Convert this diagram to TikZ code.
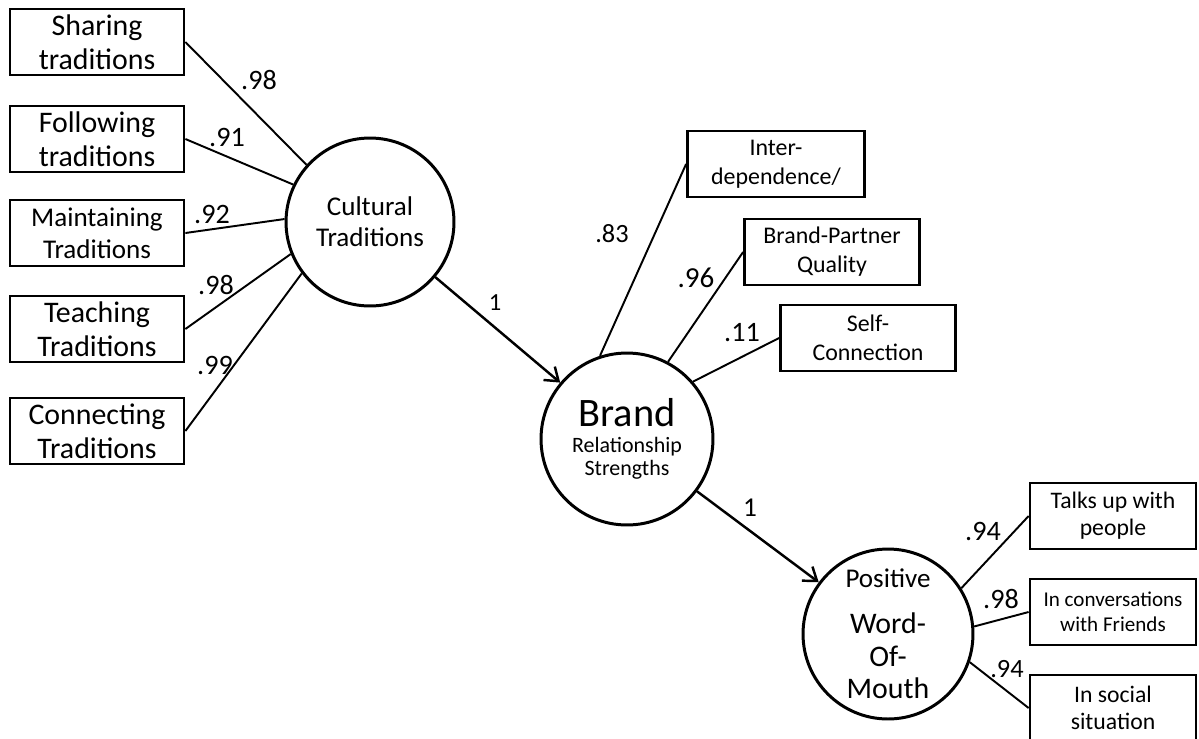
\documentclass[tikz,border=0pt]{standalone}
\usepackage{fontspec}
\setmainfont[Numbers=Lining]{Carlito}
\usetikzlibrary{arrows.meta}

\begin{document}
\begin{tikzpicture}[x=0.02cm, y=-0.02cm]
    % Define styles for different elements
    \tikzstyle{indicator} = [rectangle, draw, line width=1.6pt, minimum width=3.48cm, minimum height=1.32cm, inner sep=1pt, align=center, font=\fontsize{17}{19.5}\selectfont]
    \tikzstyle{facet} = [indicator, minimum width=3.5cm, font=\fontsize{13.6}{16.5}\selectfont]
    \tikzstyle{outcome} = [indicator, minimum width=3.32cm, font=\fontsize{13.5}{15.5}\selectfont]
    \tikzstyle{construct} = [circle, draw, line width=1.7pt, minimum size=3.4cm, inner sep=0pt, align=center]
    \tikzstyle{loading} = [draw, line width=1.1pt, -]
    \tikzstyle{effect} = [draw, line width=1.4pt, -{Straight Barb[length=7pt, width=10pt, line width=1.4pt]}]
    \tikzstyle{weight} = [inner sep=0pt, font=\fontsize{16}{18}\selectfont]

    \useasboundingbox (0,0) rectangle (1199,738);

    % Cultural traditions indicators
    \node[indicator] (share) at (97,42) {Sharing\\traditions};
    \node[indicator] (follow) at (97,139) {Following\\traditions};
    \node[indicator, font=\fontsize{15.4}{18}\selectfont] (maintain) at (97,233) {Maintaining\\Traditions};
    \node[indicator] (teach) at (97,329) {Teaching\\Traditions};
    \node[indicator] (connect) at (97,431) {Connecting\\Traditions};

    % Latent constructs
    \node[construct, minimum size=3.36cm, font=\fontsize{15.4}{17.6}\selectfont] (cult) at (370,222) {Cultural\\Traditions};
    \node[construct, minimum size=3.44cm, font=\fontsize{12.5}{13}\selectfont] (brand) at (627,439) {{\fontsize{23}{24}\selectfont Brand}\\[2pt]Relationship\\Strengths};
    \node[construct, font=\fontsize{17}{18.5}\selectfont] (wom) at (888,634) {{\fontsize{15.4}{17}\selectfont Positive}\\[7.5pt]Word-\\Of-\\Mouth};

    % Brand relationship indicators
    \node[facet, minimum width=3.54cm] (inter) at (776,164) {Inter-\\dependence/};
    \node[facet] (partner) at (832,252) {Brand-Partner\\Quality};
    \node[facet] (self) at (868,338) {Self-\\Connection};

    % Word-of-mouth indicators
    \node[outcome] (talk) at (1113,516) {Talks up with\\people};
    \node[outcome, font=\fontsize{12}{14}\selectfont] (friends) at (1113,612) {In conversations\\with Friends};
    \node[outcome] (social) at (1113,708) {In social\\situation};

    % Connect the nodes
    \draw[loading] (share.east) -- (cult.138);
    \draw[loading] (follow.east) -- (cult.154);
    \draw[loading] (maintain.east) -- (cult.178);
    \draw[loading] (teach.east) -- (cult.202);
    \draw[loading] (connect.east) -- (cult.217);
    \draw[loading] (brand.108) -- (inter.west);
    \draw[loading] (brand.62) -- (partner.west);
    \draw[loading] (brand.41) -- (self.west);
    \draw[loading] (wom.32) -- (talk.west);
    \draw[loading] (wom.5) -- (friends.west);
    \draw[loading] (wom.-19) -- (social.west);
    \draw[effect] (cult) -- (brand);
    \draw[effect] (brand) -- (wom);

    % Add loadings next to the lines
    \node[weight] (w1) at (259,80) {.98};
    \node[weight] (w2) at (227,137) {.91};
    \node[weight] (w3) at (212,214) {.92};
    \node[weight] (w4) at (216,285) {.98};
    \node[weight] (w5) at (215,365) {.99};
    \node[weight, font=\fontsize{15}{17}\selectfont] (w6) at (612,234) {.83};
    \node[weight, font=\fontsize{16.5}{18}\selectfont] (w7) at (696,278) {.96};
    \node[weight] (w8) at (742,333) {.11};
    \node[weight] (w9) at (983,531) {.94};
    \node[weight] (w10) at (1001,599) {.98};
    \node[weight, font=\fontsize{15}{17}\selectfont] (w11) at (1007,669) {.94};
    \node[weight, font=\fontsize{14}{16}\selectfont] (p1) at (495,303) {1};
    \node[weight, font=\fontsize{15.5}{17}\selectfont] (p2) at (750,508) {1};
\end{tikzpicture}
\end{document}
